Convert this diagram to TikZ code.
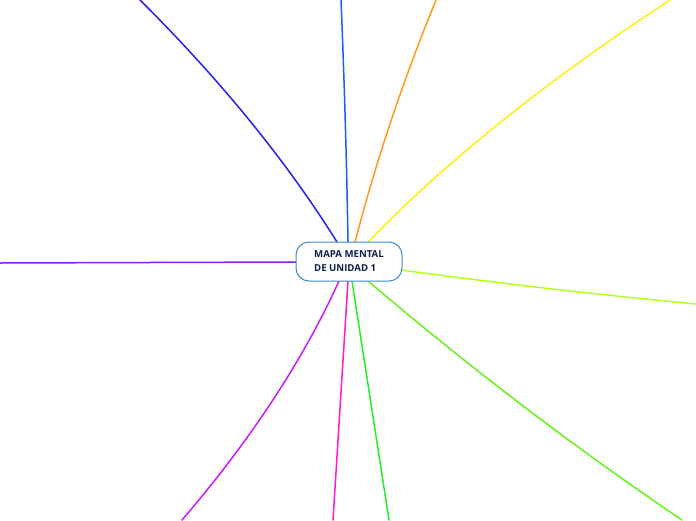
\documentclass[tikz,border=0pt]{standalone}
\usepackage{fontspec}
\setmainfont{Open Sans}
\usetikzlibrary{calc}
\definecolor{cBlueA}{HTML}{2A1FE8}
\definecolor{cBlueB}{HTML}{1F5CFF}
\definecolor{cOrange}{HTML}{FF9A1A}
\definecolor{cYellow}{HTML}{FFEE10}
\definecolor{cLime}{HTML}{B4FF20}
\definecolor{cGreenA}{HTML}{66F21A}
\definecolor{cGreenB}{HTML}{22F022}
\definecolor{cMagenta}{HTML}{FF1ACC}
\definecolor{cPurple}{HTML}{CC1AFF}
\definecolor{cViolet}{HTML}{8A1AFF}
\definecolor{cBorder}{HTML}{3A8AD0}
\definecolor{cText}{HTML}{0E1E4E}
\tikzset{
  central/.style={draw=cBorder, line width=1pt, fill=white, rounded corners=13pt,
    minimum width=106pt, minimum height=39pt, align=left, text=cText,
    font=\fontsize{9.6}{14}\selectfont\bfseries, inner sep=0pt},
  branch/.style={line width=1.5pt, line cap=round}
}
\begin{document}
\begin{tikzpicture}[x=1pt,y=-1pt]
\useasboundingbox (0,0) rectangle (696,520);
% end points of branches
\coordinate (e1) at (140,0);
\coordinate (e2) at (341,0);
\coordinate (e3) at (436,0);
\coordinate (e4) at (670,0);
\coordinate (e5) at (696,304);
\coordinate (e6) at (682,520);
\coordinate (e7) at (389,520);
\coordinate (e8) at (333,520);
\coordinate (e9) at (182,520);
\coordinate (e10) at (0,263);
% branches
\draw[branch, cBlueA] (337,242) .. controls (286.67,161.33) and (221,80.67) .. (e1);
\draw[branch, cBlueB] (348,242) .. controls (346.67,161.33) and (344.33,80.67) .. (e2);
\draw[branch, cOrange] (355,242) .. controls (376,161.33) and (403,80.67) .. (e3);
\draw[branch, cYellow] (368,242) .. controls (446,161.33) and (546.67,80.67) .. (e4);
\draw[branch, cLime] (401,270) .. controls (499,283.33) and (597.33,294.67) .. (e5);
\draw[branch, cGreenA] (368,281) .. controls (470.67,368.33) and (575.33,448) .. (e6);
\draw[branch, cGreenB] (352,281) -- (e7);
\draw[branch, cMagenta] (348,281) -- (e8);
\draw[branch, cPurple] (339,281) .. controls (303,360.33) and (250.67,440) .. (e9);
\draw[branch, cViolet] (297,262) -- (e10);
% central node
\node[central] (c) at (349,261.5) {MAPA MENTAL\\DE UNIDAD 1};
\end{tikzpicture}
\end{document}
